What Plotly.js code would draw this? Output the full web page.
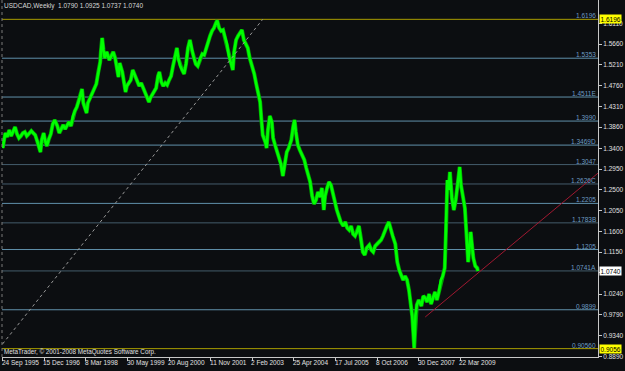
<!DOCTYPE html>
<html><head><meta charset="utf-8">
<script src="https://cdn.plot.ly/plotly-3.0.1.min.js"></script>
<style>html,body{margin:0;padding:0;background:#0c0e11;}#chart{width:625px;height:371px;}</style>
</head><body><div id="chart"></div>
<script>
// weekly bar index counted from 24 Sep 1995, and close prices
const weeks = [0,2,4,7,10,13,16,19,22,25,28,31,34,37,40,44,47,50,53,56,58,60,63,65,68,71,74,77,80,84,87,90,93,96,99,102,105,108,111,114,117,120,122,124,127,129,131,134,137,140,144,147,150,151,153,155,157,160,164,167,170,173,176,178,180,184,187,189,191,194,197,200,204,207,210,213,216,219,222,225,227,230,233,236,239,241,244,247,250,253,256,259,262,265,268,270,273,276,279,282,285,288,291,294,297,300,304,307,310,313,316,319,322,325,328,330,333,336,339,342,345,348,351,354,356,359,362,365,368,371,374,377,380,384,387,390,393,396,398,400,404,406,408,411,414,416,419,422,425,428,431,434,437,440,444,447,449,451,454,457,460,464,467,470,473,476,479,482,485,488,491,494,496,499,502,505,508,511,514,517,520,524,527,530,533,536,539,542,545,548,551,554,557,560,564,567,570,573,576,579,582,585,588,591,594,597,600,604,607,610,613,616,619,622,625,628,630,633,635,637,640,644,647,650,653,656,659,662,665,668,671,674,677,680,682,684,686,688,691,694,697,700,703,705,708,711,714,716,718,720,724,727,730,731];
const closes = [1.3406,1.3580,1.3731,1.3645,1.3796,1.3666,1.3753,1.3861,1.3710,1.3623,1.3666,1.3731,1.3753,1.3666,1.3710,1.3775,1.3731,1.3688,1.3558,1.3406,1.3319,1.3580,1.3731,1.3580,1.3449,1.3601,1.3710,1.3926,1.4013,1.3883,1.3731,1.3818,1.3905,1.3818,1.3883,1.3970,1.3883,1.4100,1.4208,1.4295,1.4425,1.4599,1.4685,1.4382,1.4230,1.4165,1.4382,1.4490,1.4577,1.4664,1.4794,1.5054,1.5271,1.5488,1.5791,1.5531,1.5357,1.5488,1.5314,1.5401,1.5488,1.5357,1.5054,1.4945,1.5249,1.5054,1.4794,1.4620,1.4750,1.4815,1.4880,1.5097,1.4967,1.4837,1.4750,1.4815,1.4707,1.4620,1.4534,1.4403,1.4490,1.4555,1.4620,1.4707,1.4967,1.5054,1.4837,1.4750,1.4815,1.4772,1.4880,1.4967,1.5184,1.5401,1.5574,1.5357,1.5184,1.5097,1.5011,1.5227,1.5574,1.5748,1.5531,1.5357,1.5227,1.5184,1.5357,1.5444,1.5423,1.5574,1.5704,1.5834,1.5943,1.6008,1.6116,1.6170,1.6008,1.5943,1.5965,1.5791,1.5661,1.5401,1.5227,1.5097,1.5488,1.5748,1.5834,1.5900,1.5965,1.5748,1.5661,1.5574,1.5357,1.5184,1.5011,1.4794,1.4620,1.4403,1.4013,1.3688,1.3536,1.3406,1.3796,1.4100,1.3970,1.3623,1.3471,1.3319,1.3189,1.3059,1.2799,1.3038,1.3319,1.3406,1.3580,1.3883,1.4013,1.3753,1.3471,1.3363,1.3254,1.3146,1.2972,1.2821,1.2669,1.2365,1.2192,1.2279,1.2452,1.2344,1.2539,1.2062,1.2365,1.2539,1.2669,1.2604,1.2409,1.2235,1.2062,1.1932,1.1802,1.1715,1.1802,1.1672,1.1628,1.1715,1.1541,1.1498,1.1585,1.1715,1.1455,1.1151,1.1086,1.1238,1.1303,1.1195,1.1151,1.1281,1.1325,1.1368,1.1411,1.1498,1.1628,1.1715,1.1802,1.1628,1.1498,1.1325,1.0934,1.0761,1.0631,1.0544,1.0631,1.0544,1.0327,1.0002,0.9763,0.9070,0.9785,1.0002,1.0110,0.9980,1.0197,1.0154,1.0067,1.0240,1.0024,1.0154,1.0284,1.0110,1.0284,1.0544,1.0631,1.0804,1.1628,1.2712,1.2495,1.2886,1.2322,1.2062,1.2279,1.2712,1.2994,1.2604,1.2387,1.2105,1.1411,1.0934,1.1238,1.1585,1.1021,1.0848,1.0804,1.0740];

const fiboLevels = [1.6196,1.5353,1.4511,1.3990,1.3469,1.3047,1.2626,1.2205,1.1783,1.1205,1.0741,0.9899,0.9056];
const fiboLabels = ['1.6196','1.5353','1.4511E','1.3990','1.3469D','1.3047','1.2626C','1.2205','1.1783B','1.1205','1.0741A','0.9899','0.90560'];
const fiboBaseWeeks = [-6,400];
const fiboBasePrices = [0.9056,1.6196];
const trendWeeks = [650,916];
const trendPrices = [0.9742,1.2864];

const priceTicks = [1.6110,1.5660,1.5210,1.4760,1.4310,1.3860,1.3400,1.2950,1.2500,1.2050,1.1600,1.1150,1.0700,1.0240,0.9790,0.9340,0.8890];
const priceTickText = ['1.6110','1.5660','1.5210','1.4760','1.4310','1.3860','1.3400','1.2950','1.2500','1.2050','1.1600','1.1150','','1.0240','0.9790','0.9340','0.8890'];
const dateTickWeeks = [0,64,128,192,256,320,384,448,512,576,640,704];
const dateTickLabels = ['24 Sep 1995','15 Dec 1996','8 Mar 1998','30 May 1999','20 Aug 2000','11 Nov 2001','2 Feb 2003','25 Apr 2004','17 Jul 2005','8 Oct 2006','30 Dec 2007','22 Mar 2009'];
const titleText = 'USDCAD,Weekly  1.0790 1.0925 1.0737 1.0740';
const copyrightText = 'MetaTrader, © 2001-2008 MetaQuotes Software Corp.';
const maxPrice = 1.6196, minPrice = 0.9056, lastPrice = 1.0740;

const FONT = 'Liberation Sans, Arial, sans-serif';
const darkIdx = new Set([5,6,8,10]);
const shapes = [];
const annotations = [];
fiboLevels.forEach((lv,i)=>{
  const edge = (i===0 || i===fiboLevels.length-1);
  shapes.push({type:'line',xref:'paper',x0:0,x1:1,yref:'y',y0:lv,y1:lv,layer:'below',
    line:{color: edge ? '#a99d00' : (darkIdx.has(i) ? '#445c6b' : '#6090aa'), width:1}});
  annotations.push({xref:'paper',x:1,xanchor:'right',xshift:-1,yref:'y',y:lv,yanchor:'bottom',yshift:-1,
    text:fiboLabels[i],showarrow:false,font:{family:FONT,size:6.5,color:'#6c9cc4'},borderpad:0});
});
shapes.push({type:'line',xref:'paper',x0:0,x1:0,yref:'paper',y0:0,y1:1,line:{color:'#7a7a7a',width:1,dash:'dot'}});

dateTickWeeks.forEach((w,i)=>{
  annotations.push({xref:'x',x:w,xanchor:'left',xshift:-2,yref:'paper',y:0,yanchor:'top',yshift:-1,
    text:dateTickLabels[i],showarrow:false,font:{family:FONT,size:6.5,color:'#e0e0e0'},borderpad:0});
});
annotations.push({xref:'paper',x:0,xanchor:'left',xshift:1,yref:'paper',y:1,yanchor:'top',yshift:-1,
  text:titleText,showarrow:false,font:{family:FONT,size:6.5,color:'#d8d8d8'},borderpad:0});
annotations.push({xref:'paper',x:0,xanchor:'left',xshift:1,yref:'paper',y:0,yanchor:'bottom',yshift:0,
  text:copyrightText,showarrow:false,font:{family:FONT,size:6.3,color:'#e0e0e0'},borderpad:0});
[[maxPrice,'#ffff00'],[lastPrice,'#ffffff'],[minPrice,'#ffff00']].forEach(([p,bg])=>{
  annotations.push({xref:'paper',x:1,xanchor:'left',xshift:1,yref:'y',y:p,yanchor:'middle',
    text:p.toFixed(4),showarrow:false,bgcolor:bg,font:{family:FONT,size:6.5,color:'#000000'},borderpad:0.5});
});

const traces = [
  {x:weeks,y:closes,type:'scatter',mode:'lines',line:{color:'#00a800',width:4},hoverinfo:'skip'},
  {x:weeks,y:closes,type:'scatter',mode:'lines',line:{color:'#00ff00',width:2.6},hoverinfo:'skip'},
  {x:fiboBaseWeeks,y:fiboBasePrices,type:'scatter',mode:'lines',line:{color:'#9a9a9a',width:1,dash:'dot'},hoverinfo:'skip'},
  {x:trendWeeks,y:trendPrices,type:'scatter',mode:'lines',line:{color:'#a01830',width:1},hoverinfo:'skip'}
];

const layout = {
  width:625,height:371,
  paper_bgcolor:'#0c0e11',plot_bgcolor:'#0c0e11',
  margin:{l:2,r:27,t:0,b:14},
  showlegend:false,
  xaxis:{range:[-1.1,915.8],showgrid:false,zeroline:false,showline:true,linecolor:'#c8c8c8',linewidth:1,
    ticks:'outside',ticklen:3,tickcolor:'#c8c8c8',tickvals:dateTickWeeks,showticklabels:false,fixedrange:true},
  yaxis:{side:'right',range:[0.88748,1.6615],showgrid:false,zeroline:false,showline:true,linecolor:'#c8c8c8',linewidth:1,
    ticks:'outside',ticklen:3,tickcolor:'#c8c8c8',tickvals:priceTicks,ticktext:priceTickText,
    tickfont:{family:FONT,size:6.5,color:'#e0e0e0'},fixedrange:true},
  shapes:shapes,annotations:annotations
};
Plotly.newPlot('chart',traces,layout,{staticPlot:true,displayModeBar:false});
</script></body></html>
